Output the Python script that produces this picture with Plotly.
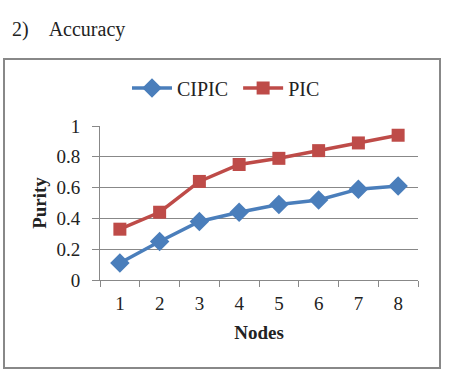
import plotly.graph_objects as go

nodes = ["1", "2", "3", "4", "5", "6", "7", "8"]
cipic = [0.11, 0.25, 0.38, 0.44, 0.49, 0.52, 0.59, 0.61]
pic = [0.33, 0.44, 0.64, 0.75, 0.79, 0.84, 0.89, 0.94]
y_ticks = [0, 0.2, 0.4, 0.6, 0.8, 1]
y_tick_text = ["0", "0.2", "0.4", "0.6", "0.8", "1"]

W, H = 457, 372
L, R, T, B = 100, 39, 126, 92
pw, ph = W - L - R, H - T - B

def px(x):
    return (x - L) / pw

def py(y):
    return (H - B - y) / ph

serif = "Liberation Serif, Times New Roman, serif"

fig = go.Figure()
fig.add_trace(go.Scatter(
    x=nodes, y=cipic, name="CIPIC\u00a0", mode="lines+markers",
    line=dict(color="#4A7EBB", width=3.5),
    marker=dict(symbol="diamond", size=15, color="#4A7EBB"),
))
fig.add_trace(go.Scatter(
    x=nodes, y=pic, name="PIC", mode="lines+markers",
    line=dict(color="#BE4B48", width=3.5),
    marker=dict(symbol="square", size=13, color="#BE4B48"),
))

fig.update_layout(
    width=W, height=H,
    margin=dict(l=L, r=R, t=T, b=B),
    paper_bgcolor="white", plot_bgcolor="white",
    font=dict(family=serif, size=19, color="#222"),
    showlegend=True,
    legend=dict(orientation="h", x=px(127), y=py(88), xanchor="left", yanchor="middle",
                font=dict(size=20, family=serif), itemwidth=40, tracegroupgap=0,
                bgcolor="rgba(0,0,0,0)"),
    xaxis=dict(
        type="category", range=[-0.5, 7.5], tickson="boundaries",
        ticks="outside", ticklen=6, tickcolor="#888", showline=True,
        linecolor="#888", linewidth=1, showgrid=False,
        tickfont=dict(size=19, family=serif), ticklabelstandoff=6,
        title=dict(text="<b>Nodes</b>", font=dict(size=19, family=serif), standoff=12),
    ),
    yaxis=dict(
        range=[0, 1], tickvals=y_ticks, ticktext=y_tick_text,
        ticks="outside", ticklen=7, tickcolor="#888", showline=True,
        linecolor="#888", linewidth=1, showgrid=True, gridcolor="#888", gridwidth=1,
        zeroline=False, tickfont=dict(size=19, family=serif), ticklabelstandoff=8,
        title=dict(text="<b>Purity</b>", font=dict(size=19, family=serif), standoff=4),
    ),
    shapes=[
        dict(type="rect", xref="paper", yref="paper",
             x0=px(4), x1=px(440), y0=py(368), y1=py(59),
             line=dict(color="#888", width=2), fillcolor="rgba(0,0,0,0)", layer="below"),
    ],
    annotations=[
        dict(text="2)\u2003Accuracy", xref="paper", yref="paper",
             x=px(10), y=py(29), xanchor="left", yanchor="middle",
             showarrow=False, font=dict(size=20, family=serif, color="#222")),
    ],
)

fig.write_html("out.html")
